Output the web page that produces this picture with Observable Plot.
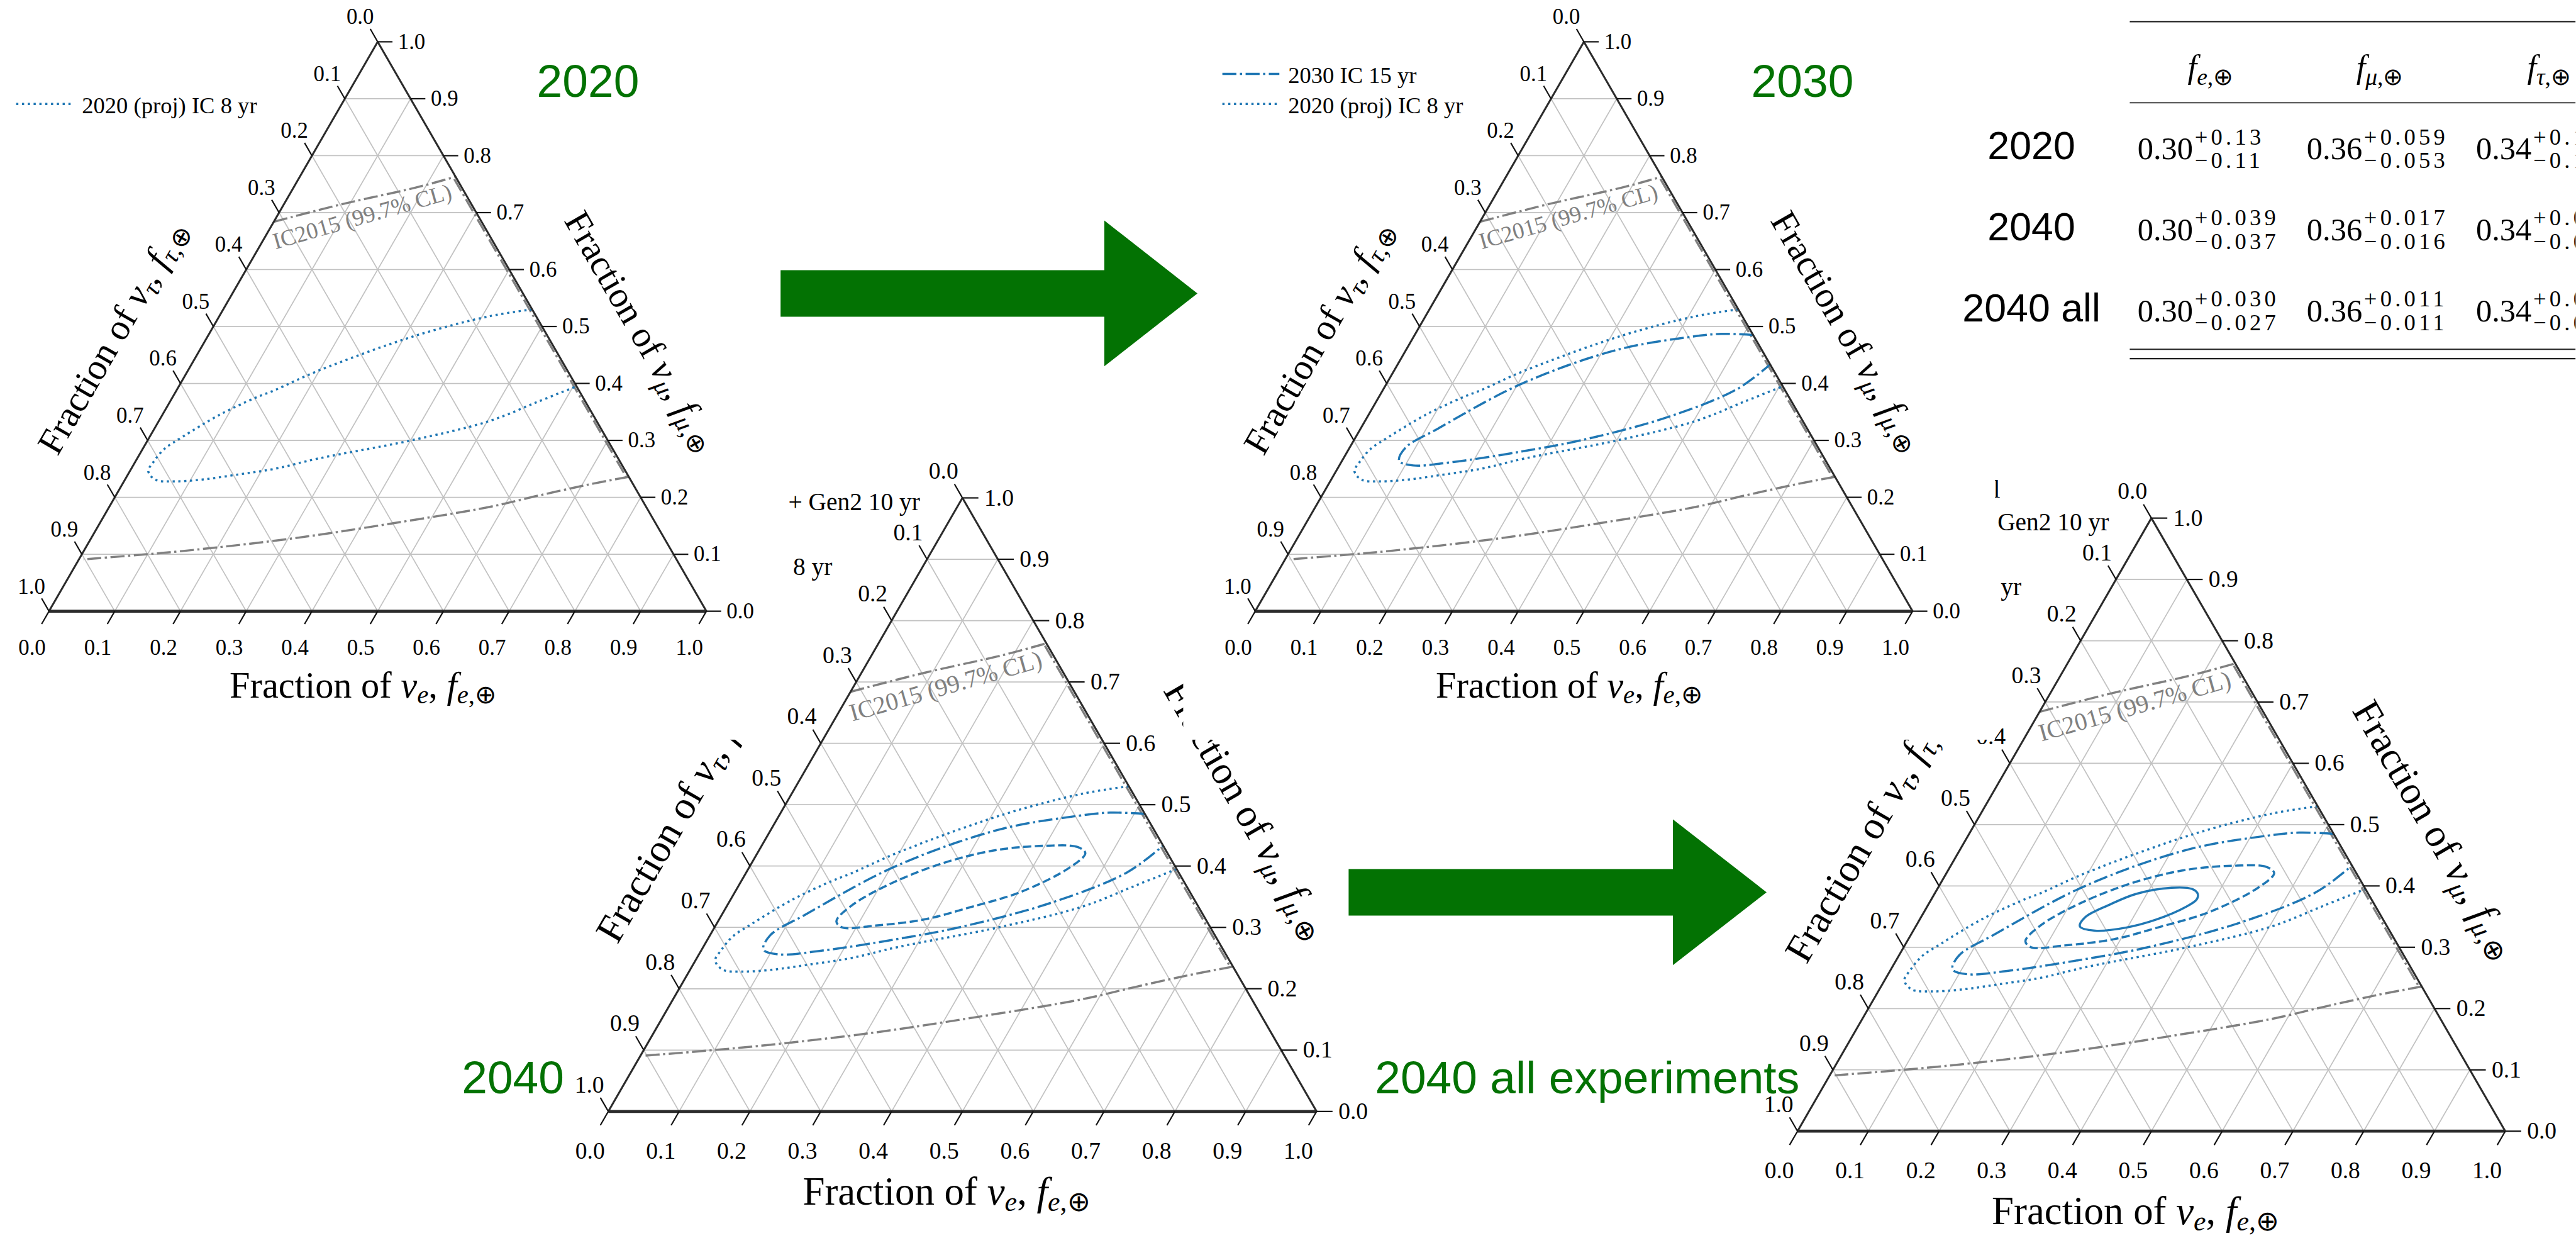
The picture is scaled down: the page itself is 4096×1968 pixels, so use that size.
<!DOCTYPE html>
<html><head><meta charset="utf-8">
<script src="https://cdn.jsdelivr.net/npm/d3@7"></script>
<script src="https://cdn.jsdelivr.net/npm/@observablehq/plot@0.6"></script>
<style>
html,body{margin:0;padding:0;background:#fff;overflow:hidden;width:4096px;height:1968px;}
#stage{position:absolute;left:0;top:0;width:4702px;height:2259px;transform:scale(0.871);transform-origin:0 0;}
#stage > svg{position:absolute;max-width:none;}
.tbl g[font-size="42"] text{letter-spacing:6px;}
</style></head><body><div id="stage"></div>
<script>
// ---------------- data ----------------
const tickValues = [0.0,0.1,0.2,0.3,0.4,0.5,0.6,0.7,0.8,0.9,1.0];
const tickLabels = ["0.0","0.1","0.2","0.3","0.4","0.5","0.6","0.7","0.8","0.9","1.0"];
const gridValues = [0.1,0.2,0.3,0.4,0.5,0.6,0.7,0.8,0.9];

// contours as [f_e, f_mu]
const contour2020 = [[0.470,0.530],[0.411,0.518],[0.316,0.484],[0.198,0.422],[0.149,0.388],[0.127,0.375],[0.087,0.345],[0.050,0.306],[0.033,0.285],[0.028,0.263],[0.028,0.246],[0.046,0.231],[0.076,0.228],[0.116,0.231],[0.167,0.240],[0.218,0.250],[0.275,0.268],[0.401,0.300],[0.503,0.334],[0.560,0.368],[0.605,0.395]];
const contour2030 = [[0.515,0.485],[0.465,0.487],[0.423,0.482],[0.321,0.459],[0.205,0.399],[0.117,0.320],[0.085,0.287],[0.087,0.264],[0.112,0.256],[0.170,0.262],[0.263,0.280],[0.345,0.300],[0.455,0.340],[0.538,0.390],[0.567,0.434]];
const contour2040 = [[0.463,0.421],[0.447,0.431],[0.400,0.433],[0.335,0.426],[0.273,0.406],[0.214,0.372],[0.176,0.336],[0.167,0.310],[0.180,0.300],[0.226,0.303],[0.290,0.313],[0.345,0.333],[0.404,0.358],[0.453,0.398]];
const contour2040all = [[0.372,0.387],[0.360,0.395],[0.330,0.397],[0.285,0.387],[0.257,0.370],[0.232,0.349],[0.232,0.334],[0.257,0.327],[0.298,0.332],[0.334,0.345],[0.366,0.366],[0.375,0.378]];
const ic2015Upper = [[0.000,0.684],[0.089,0.715],[0.186,0.744],[0.237,0.763]];
const ic2015Edge = [[0.237,0.759],[0.760,0.236]];
const ic2015Lower = [[0.764,0.236],[0.708,0.222],[0.643,0.203],[0.578,0.183],[0.444,0.154],[0.308,0.128],[0.169,0.108],[0.099,0.100],[0.007,0.091]];

const legendLabels = ["2040: Gen2 + all","2040 IC 15 yr + Gen2 10 yr","2030 IC 15 yr","2020 (proj) IC 8 yr"];
const axisTitles = {e:"Fraction of νe, fe,⊕", mu:"Fraction of νμ, fμ,⊕", tau:"Fraction of ντ, fτ,⊕"};
const icLabel = "IC2015 (99.7% CL)";
const panelTags = ["2020","2030","2040","2040 all experiments"];

const tableRows = ["2020","2040","2040 all"];
const tableCols = ["fe","fmu","ftau"];
const tableHeads = ["fe,⊕","fμ,⊕","fτ,⊕"];
const centralValues = ["0.30","0.36","0.34"];
const plusErrors = [["+0.13","+0.059","+0.12"],["+0.039","+0.017","+0.041"],["+0.030","+0.011","+0.031"]];
const minusErrors = [["−0.11","−0.053","−0.12"],["−0.037","−0.016","−0.040"],["−0.027","−0.011","−0.029"]];

// ---------------- styles / layout ----------------
const K = Math.sqrt(3) / 2;
const X = (fe, fmu) => fe + fmu / 2;
const Y = fmu => fmu * K;
const BLUE = "#1f77b4", GRAY = "#808080", EDGE = "#2b2b2b", GRID = "#c2c2c2", GREEN = "#037203";
const SERIF = "Liberation Serif", SANS = "Liberation Sans";

const series = [
  {data: contour2040all, dash: null, closed: true},
  {data: contour2040, dash: "14.8,6.4", closed: true},
  {data: contour2030, dash: "25.6,6.4,4,6.4", closed: false},
  {data: contour2020, dash: "4,6.6", closed: false}
];
const legendSlots = [0.7648, 0.8105, 0.856, 0.9026];

const layout = [
  {box:[980,820,1560,1439], bx:1110, by:2028, s:1293, n:3, bg:"transparent"},
  {box:[3150,820,1552,1439], bx:3281, by:2064, s:1292, n:4, bg:"transparent"},
  {box:[0,0,1438,1350], bx:89, by:1115, s:1200, n:1, bg:"#fff"},
  {box:[2160,0,1482,1350], bx:2291, by:1115, s:1200, n:2, bg:"#fff"}
];

// ---------------- rich text ----------------
function richTitle(sym, sub) {
  return `Fraction of <tspan font-style="italic">${sym}</tspan><tspan font-style="italic" style="font-size:70%" dy="0.22em">${sub}</tspan><tspan dy="-0.154em">, </tspan><tspan font-style="italic">f</tspan><tspan style="font-size:70%" dy="0.22em"><tspan font-style="italic">${sub}</tspan>,⊕</tspan>`;
}
function richHead(sub) {
  return `<tspan font-style="italic">f</tspan><tspan style="font-size:72%" dy="0.3em"><tspan font-style="italic">${sub}</tspan>,⊕</tspan>`;
}
const RICH = {
  [axisTitles.e]: richTitle("ν","e"),
  [axisTitles.mu]: richTitle("ν","μ"),
  [axisTitles.tau]: richTitle("ν","τ"),
  [tableHeads[0]]: richHead("e"),
  [tableHeads[1]]: richHead("μ"),
  [tableHeads[2]]: richHead("τ")
};
function enrich(svg) {
  svg.querySelectorAll("text").forEach(t => {
    const r = RICH[t.textContent];
    if (r) t.innerHTML = r;
  });
}

// ---------------- ternary panel ----------------
const gridSegs = gridValues.flatMap(t => [
  {x1: X(0,t), y1: Y(t), x2: X(1-t,t), y2: Y(t)},
  {x1: X(t,0), y1: 0, x2: X(t,1-t), y2: Y(1-t)},
  {x1: X(1-t,0), y1: 0, x2: X(0,1-t), y2: Y(1-t)}
]);
const tickSegs = tickValues.flatMap(t => [
  {x1: X(t,0), y1: 0, x2: X(t,0) - 0.01125, y2: -0.0195},
  {x1: X(1-t,t), y1: Y(t), x2: X(1-t,t) + 0.0225, y2: Y(t)},
  {x1: X(0,1-t), y1: Y(1-t), x2: X(0,1-t) - 0.01125, y2: Y(1-t) + 0.0195}
]);
const icSegs = [
  ...ic2015Upper.map(([fe,fmu]) => ({seg:"u", fe, fmu})),
  ...ic2015Edge.map(([fe,fmu]) => ({seg:"e", fe, fmu})),
  ...ic2015Lower.map(([fe,fmu]) => ({seg:"l", fe, fmu}))
];

function ternary(p) {
  const [L, T, W, H] = p.box;
  const k = p.s / 1200;
  const topY = p.by - p.s * K;
  const shown = series.slice(4 - p.n);
  const legend = legendLabels.slice(4 - p.n).map((label, j) => ({label, st: shown[j], slot: legendSlots[p.n - 1 - j]}));
  const lineOpts = {strokeWidth: 4, strokeLinecap: "butt", strokeLinejoin: "round"};
  const marks = [
    Plot.link(gridSegs, {x1:"x1", y1:"y1", x2:"x2", y2:"y2", stroke: GRID, strokeWidth: 2}),
    Plot.line(icSegs, {x: d => X(d.fe, d.fmu), y: d => Y(d.fmu), z: "seg", stroke: GRAY, strokeDasharray: "25.6,6.4,4,6.4", curve: "catmull-rom", ...lineOpts}),
    ...shown.map(sr => Plot.line(sr.data, {x: d => X(d[0], d[1]), y: d => Y(d[1]), stroke: BLUE, strokeDasharray: sr.dash || undefined, curve: sr.closed ? "catmull-rom-closed" : "catmull-rom", ...lineOpts})),
    Plot.link([[0,0,0,1],[1,0,0,1]], {x1: d => X(d[0], d[1]), y1: d => Y(d[1]), x2: d => X(d[2], d[3]), y2: d => Y(d[3]), stroke: EDGE, strokeWidth: 3.5}),
    Plot.link([[0,0,1,0]], {x1: d => X(d[0], d[1]), y1: d => Y(d[1]), x2: d => X(d[2], d[3]), y2: d => Y(d[3]), stroke: EDGE, strokeWidth: 5.5}),
    Plot.link(tickSegs, {x1:"x1", y1:"y1", x2:"x2", y2:"y2", stroke: "#111", strokeWidth: 2.5}),
    // tick labels
    Plot.text(tickValues, {x: t => X(t,0) - 0.0258, y: -0.0558, text: (t,i) => tickLabels[i], fontSize: 40*k, textAnchor: "middle", lineAnchor: "middle"}),
    Plot.text(tickValues, {x: t => X(1-t,t) + 0.0308, y: t => Y(t), text: (t,i) => tickLabels[i], fontSize: 40*k, textAnchor: "start", lineAnchor: "middle"}),
    Plot.text(tickValues, {x: t => X(0,1-t) - 0.0267, y: t => Y(1-t) + 0.0375, text: (t,i) => tickLabels[i], fontSize: 40*k, textAnchor: "middle", lineAnchor: "middle"}),
    // axis titles
    Plot.text([axisTitles.e], {x: 0.4775, y: -0.1315, text: d => d, fontSize: 67*k, textAnchor: "middle", lineAnchor: "bottom"}),
    Plot.text([axisTitles.tau], {x: 0.0971, y: 0.4164, text: d => d, fontSize: 67*k, rotate: -60, textAnchor: "middle", lineAnchor: "middle"}),
    Plot.text([axisTitles.mu], {x: 0.9008, y: 0.4255, text: d => d, fontSize: 67*k, rotate: 60, textAnchor: "middle", lineAnchor: "middle"}),
    // IC2015 label
    Plot.text([icLabel], {x: 0.4765, y: 0.600, text: d => d, fontSize: 42*k, rotate: -16, fill: GRAY, textAnchor: "middle", lineAnchor: "middle"}),
    // legend
    ...legend.map(e => Plot.link([e], {x1: -0.05, x2: 0.0367, y1: d => d.slot + 0.0067, y2: d => d.slot + 0.0067, stroke: BLUE, strokeDasharray: e.st.dash || undefined, ...lineOpts})),
    Plot.text(legend, {x: 0.05, y: d => d.slot + 0.004, text: "label", fontSize: 42*k, textAnchor: "start", lineAnchor: "middle"})
  ];
  const svg = Plot.plot({
    width: W, height: H,
    marginLeft: p.bx - L, marginRight: (L + W) - (p.bx + p.s),
    marginTop: topY - T, marginBottom: (T + H) - p.by,
    x: {domain: [0, 1]}, y: {domain: [0, K]},
    axis: null,
    style: {background: p.bg, fontFamily: SERIF, color: "#000", overflow: "hidden"},
    marks
  });
  svg.style.left = L + "px";
  svg.style.top = T + "px";
  enrich(svg);
  return svg;
}

// ---------------- table ----------------
function table() {
  const cells = tableRows.flatMap((r, i) => tableCols.map((c, j) => ({row: r, col: c, main: centralValues[j], plus: plusErrors[i][j], minus: minusErrors[i][j]})));
  const svg = Plot.plot({
    width: 1152, height: 700,
    marginLeft: 338, marginRight: 0, marginTop: 0, marginBottom: 0,
    x: {type: "point", domain: tableCols, range: [452, 1071], padding: 0},
    y: {type: "point", domain: ["head", ...tableRows], range: [141, 587], padding: 0},
    axis: null,
    style: {background: "transparent", fontFamily: SERIF, color: "#000", overflow: "hidden"},
    marks: [
      Plot.ruleY(["head"], {y: d => d, dy: -103, stroke: "#222", strokeWidth: 2.5}),
      Plot.ruleY(["head"], {y: d => d, dy: 45, stroke: "#222", strokeWidth: 2}),
      Plot.ruleY(["2040 all"], {y: d => d, dy: 51, stroke: "#222", strokeWidth: 2.5}),
      Plot.ruleY(["2040 all"], {y: d => d, dy: 68, stroke: "#222", strokeWidth: 2.5}),
      Plot.text(tableCols, {x: d => d, y: () => "head", text: (d, i) => tableHeads[i], dx: 32, fontSize: 60, textAnchor: "middle", lineAnchor: "bottom"}),
      Plot.text(tableRows, {y: d => d, frameAnchor: "left", dx: -180, text: d => d, fontFamily: SANS, fontSize: 72, textAnchor: "middle", lineAnchor: "bottom"}),
      Plot.text(cells, {x: "col", y: "row", text: "main", fontSize: 58, textAnchor: "end", lineAnchor: "bottom"}),
      Plot.text(cells, {x: "col", y: "row", text: "plus", fontSize: 42, dx: 3, dy: -27, textAnchor: "start", lineAnchor: "bottom"}),
      Plot.text(cells, {x: "col", y: "row", text: "minus", fontSize: 42, dx: 3, dy: 16, textAnchor: "start", lineAnchor: "bottom"})
    ]
  });
  svg.classList.add("tbl");
  svg.style.left = "3550px";
  svg.style.top = "0px";
  enrich(svg);
  return svg;
}

// ---------------- assemble ----------------
const stage = document.getElementById("stage");
layout.forEach(p => stage.appendChild(ternary(p)));
stage.appendChild(table());

// arrows and green panel tags (annotation overlay)
const arrows = [
  {x0: 1425, x1: 2016, x2: 2186, yc: 535.5, shaft: 42.5, head: 133},
  {x0: 2462, x1: 3054, x2: 3225, yc: 1628.5, shaft: 42.5, head: 133}
];
const tagPos = [{x: 980, y: 177}, {x: 3197, y: 177}, {x: 843, y: 1995}, {x: 2510, y: 1995}];
const NS = "http://www.w3.org/2000/svg";
const ov = document.createElementNS(NS, "svg");
ov.setAttribute("width", 4702); ov.setAttribute("height", 2259);
ov.style.left = "0px"; ov.style.top = "0px";
arrows.forEach(a => {
  const pg = document.createElementNS(NS, "polygon");
  pg.setAttribute("points", [[a.x0, a.yc - a.shaft], [a.x1, a.yc - a.shaft], [a.x1, a.yc - a.head], [a.x2, a.yc], [a.x1, a.yc + a.head], [a.x1, a.yc + a.shaft], [a.x0, a.yc + a.shaft]].map(q => q.join(",")).join(" "));
  pg.setAttribute("fill", GREEN);
  ov.appendChild(pg);
});
panelTags.forEach((t, i) => {
  const tx = document.createElementNS(NS, "text");
  tx.setAttribute("x", tagPos[i].x); tx.setAttribute("y", tagPos[i].y);
  tx.setAttribute("font-family", SANS); tx.setAttribute("font-size", 84);
  tx.setAttribute("fill", GREEN);
  tx.textContent = t;
  ov.appendChild(tx);
});
stage.appendChild(ov);
</script></body></html>
